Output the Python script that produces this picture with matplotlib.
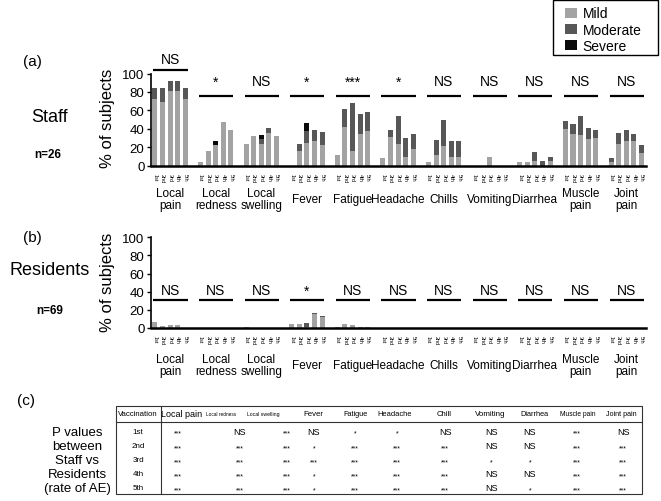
import numpy as np
import matplotlib
matplotlib.use("Agg")
import matplotlib.pyplot as plt
from matplotlib.transforms import blended_transform_factory
from matplotlib.patches import Patch, Rectangle

plt.rcParams['font.family'] = ['Liberation Sans', 'DejaVu Sans']

# ---------------- data ----------------
categories = ["Local\npain", "Local\nredness", "Local\nswelling", "Fever", "Fatigue",
              "Headache", "Chills", "Vomiting", "Diarrhea", "Muscle\npain", "Joint\npain"]
doses = ["1st", "2nd", "3rd", "4th", "5th"]
severity = ["Mild", "Moderate", "Severe"]

staff_mild = [
    [72.7, 68.7, 80.6, 80.6, 72.7],
    [4.3, 16.2, 22.3, 47.5, 38.5],
    [23.4, 32.4, 23.7, 36.0, 31.7],
    [0.0, 16.2, 24.8, 26.6, 22.3],
    [11.2, 41.7, 15.8, 34.9, 37.8],
    [8.6, 30.6, 23.0, 9.0, 17.6],
    [4.3, 11.9, 21.2, 9.4, 9.4],
    [0.0, 0.0, 9.4, 0.0, 0.0],
    [4.3, 4.3, 5.0, 0.0, 5.0],
    [40.3, 34.5, 33.0, 28.8, 30.2],
    [4.3, 23.7, 26.6, 26.6, 14.0],
]
staff_moderate = [
    [11.3, 15.3, 10.8, 10.8, 11.3],
    [0.0, 0.0, 0.0, 0.0, 0.0],
    [0.0, 0.0, 5.1, 4.6, 0.0],
    [0.0, 7.5, 12.6, 12.2, 14.0],
    [0.0, 20.2, 52.2, 21.6, 20.8],
    [0.0, 7.9, 30.6, 21.2, 17.3],
    [0.0, 16.5, 28.8, 17.9, 17.9],
    [0.0, 0.0, 0.0, 0.0, 0.0],
    [0.0, 0.0, 9.4, 5.0, 4.4],
    [7.9, 11.2, 20.6, 12.6, 8.6],
    [4.0, 12.3, 12.2, 8.3, 8.3],
]
staff_severe = [
    [0, 0, 0, 0, 0],
    [0, 0, 5.0, 0, 0],
    [0, 0, 5.0, 0, 0],
    [0, 0, 8.6, 0, 0],
    [0, 0, 0, 0, 0], [0, 0, 0, 0, 0], [0, 0, 0, 0, 0], [0, 0, 0, 0, 0],
    [0, 0, 0, 0, 0], [0, 0, 0, 0, 0], [0, 0, 0, 0, 0],
]

res_mild = [
    [6.6, 2.2, 3.3, 2.9, 0.0],
    [0, 0, 0, 0, 0],
    [1.5, 0, 0, 0, 0],
    [4.0, 4.0, 1.5, 15.0, 11.6],
    [1.5, 4.0, 3.3, 1.5, 1.5],
    [0, 0, 0, 0, 0], [0, 0, 0, 0, 0], [0, 0, 0, 0, 0],
    [0, 0, 0, 0, 0], [0, 0, 0, 0, 0], [0, 0, 0, 0, 0],
]
res_moderate = [
    [0, 0, 0, 0, 0], [0, 0, 0, 0, 0], [0, 0, 0, 0, 0],
    [0, 0, 4.0, 1.4, 1.4],
    [0, 0, 0, 0, 0], [0, 0, 0, 0, 0], [0, 0, 0, 0, 0], [0, 0, 0, 0, 0],
    [0, 0, 0, 0, 0], [0, 0, 0, 0, 0], [0, 0, 0, 0, 0],
]
res_severe = [[0, 0, 0, 0, 0] for _ in range(11)]

sig_staff = ["NS", "*", "NS", "*", "***", "*", "NS", "NS", "NS", "NS", "NS"]
sig_res = ["NS", "NS", "NS", "*", "NS", "NS", "NS", "NS", "NS", "NS", "NS"]

table_header = ["Vaccination", "Local pain", "Local redness", "Local swelling", "Fever",
                "Fatigue", "Headache", "Chill", "Vomiting", "Diarrhea", "Muscle pain", "Joint pain"]
table_rows = [
    ["1st", "***", "NS", "***", "NS", "*", "*", "NS", "NS", "NS", "***", "NS"],
    ["2nd", "***", "***", "***", "*", "***", "***", "***", "NS", "NS", "***", "***"],
    ["3rd", "***", "***", "***", "***", "***", "***", "***", "*", "*", "***", "***"],
    ["4th", "***", "***", "***", "*", "***", "***", "***", "NS", "NS", "***", "***"],
    ["5th", "***", "***", "***", "*", "***", "***", "***", "NS", "*", "***", "***"],
]

# ---------------- style ----------------
W, H = 661, 502
c_mild, c_mod, c_sev = "#a3a3a3", "#575757", "#0a0a0a"

fig = plt.figure(figsize=(6.61, 5.02), dpi=100)


def fx(px):
    return px / W


def fy(py):
    return 1 - py / H


ax_t = fig.add_axes([0, 0, 1, 1], zorder=-1)
ax_t.set_xlim(0, W)
ax_t.set_ylim(H, 0)
ax_t.axis('off')
ax_t.patch.set_visible(False)

left_px, right_px = 150.7, 646
ax_a = fig.add_axes([fx(left_px), fy(166.7), (right_px - left_px) / W, (166.7 - 74.5) / H])
ax_b = fig.add_axes([fx(left_px), fy(329), (right_px - left_px) / W, (329 - 238.3) / H])


def draw_panel(ax, mild, mod, sev, sig, line_y, text_y, cat_y_px):
    mild = np.array(mild, float)
    mod = np.array(mod, float)
    sev = np.array(sev, float)
    ng, nd = mild.shape
    xs = np.array([[g * 6 + j for j in range(nd)] for g in range(ng)], float)
    w = 0.66
    ax.bar(xs.ravel(), mild.ravel(), w, color=c_mild, zorder=2)
    ax.bar(xs.ravel(), mod.ravel(), w, bottom=mild.ravel(), color=c_mod, zorder=2)
    ax.bar(xs.ravel(), sev.ravel(), w, bottom=(mild + mod).ravel(), color=c_sev, zorder=2)
    ax.set_xlim(-0.54, 64.6)
    ax.set_ylim(0, 100)
    ax.set_yticks([0, 20, 40, 60, 80, 100])
    ax.tick_params(axis='y', labelsize=9.5, length=3, width=1, pad=1.5)
    ax.set_xticks(xs.ravel())
    ax.set_xticklabels(doses * ng, rotation=270, fontsize=4)
    ax.tick_params(axis='x', length=0, pad=5)
    for s in ['top', 'right']:
        ax.spines[s].set_visible(False)
    ax.spines['left'].set_linewidth(1.2)
    ax.spines['bottom'].set_linewidth(1.8)
    ax.spines['bottom'].set_zorder(3)
    tr = blended_transform_factory(ax.transData, fig.transFigure)
    for g in range(ng):
        cx = g * 6 + 2
        ax.plot([g * 6 - 0.2, g * 6 + 4.3], [line_y[g], line_y[g]], color='black', lw=1.6,
                clip_on=False, solid_capstyle='butt')
        ax.text(cx, text_y[g], sig[g], ha='center', va='baseline', fontsize=10, clip_on=False)
        ax.text(cx, fy(cat_y_px), categories[g], ha='center', va='center', fontsize=8.5,
                transform=tr, linespacing=1.05)


draw_panel(ax_a, staff_mild, staff_moderate, staff_severe, sig_staff,
           [104] + [75.5] * 10, [111.7] + [87] * 10, 200)
draw_panel(ax_b, res_mild, res_moderate, res_severe, sig_res,
           [31] * 11, [37] * 11, 366)

# y labels
fig.text(fx(108), fy(118), "% of subjects", rotation=90, ha='center', va='center', fontsize=12)
fig.text(fx(108), fy(282), "% of subjects", rotation=90, ha='center', va='center', fontsize=12)

# left annotations
ax_t.text(32, 62, "(a)", ha='center', va='center', fontsize=11)
ax_t.text(50, 117, "Staff", ha='center', va='center', fontsize=13)
ax_t.text(48, 155, "n=26", ha='center', va='center', fontsize=8.5, fontweight='bold')
ax_t.text(32, 238, "(b)", ha='center', va='center', fontsize=11)
ax_t.text(50, 271, "Residents", ha='center', va='center', fontsize=13)
ax_t.text(50, 311, "n=69", ha='center', va='center', fontsize=8.5, fontweight='bold')
ax_t.text(26, 401, "(c)", ha='center', va='center', fontsize=11)
ax_t.text(77, 461, "P values\nbetween\nStaff vs\nResidents\n(rate of AE)",
          ha='center', va='center', fontsize=9.5, linespacing=1.2)

# table
tx0, tx1, ty0, ty1 = 116, 642, 406.7, 495
ax_t.add_patch(Rectangle((tx0, ty0), tx1 - tx0, ty1 - ty0, fill=False, lw=0.8, ec='#333333'))
ax_t.plot([tx0, tx1], [423, 423], color='#333333', lw=0.8)
ax_t.plot([160.7, 160.7], [ty0, ty1], color='#333333', lw=0.8)
header_x = [138, 182, 221, 263, 313, 355, 395, 444, 490, 534, 578, 621]
data_x = [138, 178, 240, 287, 314, 355, 397, 445, 491, 530, 577, 623]
header_fs = [5.6, 6.5, 3.4, 3.7, 5.6, 5.3, 5.4, 5.6, 5.8, 5.3, 4.8, 5.1]
row_y = [432.7, 447, 461, 475, 489]
for i, h in enumerate(table_header):
    ax_t.text(header_x[i], 415, h, ha='center', va='center', fontsize=header_fs[i])
for r, row in enumerate(table_rows):
    for c, val in enumerate(row):
        if c == 0:
            ax_t.text(data_x[c], row_y[r], val, ha='center', va='center', fontsize=5.8)
        elif val.startswith('*'):
            ax_t.text(data_x[c], row_y[r] + 1.5, val, ha='center', va='center', fontsize=5)
        else:
            ax_t.text(data_x[c], row_y[r], val, ha='center', va='center', fontsize=6.5)

# legend (frame drawn separately to match box padding)
ax_t.add_patch(Rectangle((553, 1), 105, 55, fill=False, lw=1.0, ec='black'))
handles = [Patch(fc=c, ec='none') for c in (c_mild, c_mod, c_sev)]
leg = fig.legend(handles, severity, loc='upper left', bbox_to_anchor=(fx(565), fy(7.5)),
                 fontsize=10, frameon=False, handlelength=0.86, handleheight=0.7,
                 handletextpad=0.4, labelspacing=0.15, borderpad=0, borderaxespad=0)

fig.savefig("out.png", dpi=100)
